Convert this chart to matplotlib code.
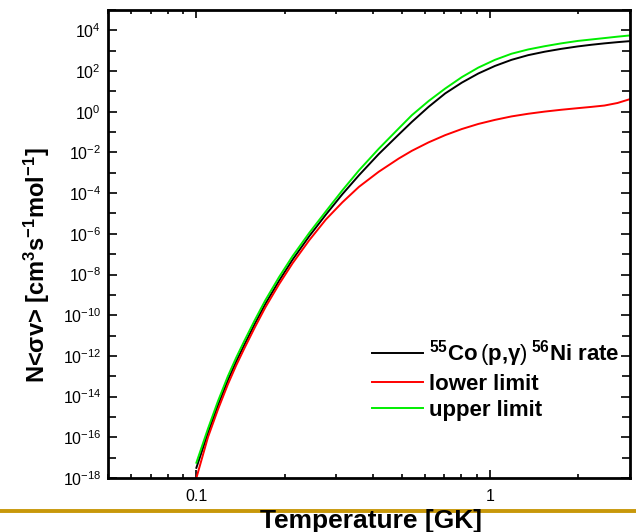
import numpy as np
import matplotlib
matplotlib.use("Agg")
import matplotlib.pyplot as plt
from matplotlib.ticker import FixedLocator, NullFormatter, FixedFormatter
from matplotlib.lines import Line2D

plt.rcParams['font.family'] = ['Liberation Sans', 'DejaVu Sans']
plt.rcParams['mathtext.fontset'] = 'custom'
plt.rcParams['mathtext.rm'] = 'Liberation Sans'
plt.rcParams['mathtext.bf'] = 'Liberation Sans:bold'
plt.rcParams['mathtext.default'] = 'regular'

# Temperature (GK)
temperature = [0.1, 0.1095, 0.1184, 0.128, 0.1366, 0.1458, 0.1584, 0.172, 0.1912,
               0.2126, 0.2422, 0.276, 0.3144, 0.358, 0.418, 0.489, 0.542, 0.618,
               0.704, 0.802, 0.913, 1.04, 1.184, 1.349, 1.536, 1.749, 1.992,
               2.211, 2.455, 2.72, 3.0]
# log10 of N<sigma v>
log_rate = [-17.5, -15.79, -14.43, -13.2, -12.28, -11.44, -10.4, -9.43, -8.31,
            -7.27, -6.12, -5.06, -4.05, -3.12, -2.08, -1.12, -0.5, 0.24,
            0.9, 1.43, 1.88, 2.25, 2.55, 2.78, 2.95, 3.09, 3.21,
            3.29, 3.36, 3.42, 3.47]
log_lower = [-18.0, -16.0, -14.64, -13.4, -12.47, -11.62, -10.58, -9.6, -8.48,
             -7.45, -6.32, -5.3, -4.45, -3.69, -2.95, -2.3, -1.92, -1.505,
             -1.15, -0.85, -0.6, -0.4, -0.23, -0.1, 0.007, 0.097, 0.176,
             0.237, 0.305, 0.43, 0.62]
log_upper = [-17.25, -15.58, -14.23, -13.0, -12.09, -11.25, -10.22, -9.25, -8.13,
             -7.1, -5.96, -4.9, -3.86, -2.88, -1.82, -0.82, -0.17, 0.525,
             1.14, 1.7, 2.17, 2.55, 2.85, 3.06, 3.22, 3.36, 3.48,
             3.55, 3.62, 3.69, 3.75]

series_labels = [r'$^{55}$Co$\,\mathrm{(}$p,γ$\mathrm{)}\,^{56}$Ni rate', 'lower limit', 'upper limit']
series_colors = ['black', '#ff0000', '#00ee00']

y_major_exp = list(range(-18, 5, 2))
y_minor_exp = list(range(-17, 6, 2))
x_major = [0.1, 1]
x_minor = [0.05, 0.06, 0.07, 0.08, 0.09, 0.2, 0.3, 0.4, 0.5, 0.6, 0.7, 0.8, 0.9, 2, 3]

fig = plt.figure(figsize=(6.36, 5.32), dpi=100)
ax = fig.add_axes([108/636, 1-478/532, (630-108)/636, (478-10)/532])

T = np.array(temperature)
for vals, lab, col in zip([log_rate, log_lower, log_upper], series_labels, series_colors):
    ax.plot(T, 10**np.array(vals), color=col, lw=1.4, label=lab)

ax.set_xscale('log')
ax.set_yscale('log')
ax.set_xlim(0.05, 3)
ax.set_ylim(1e-18, 1e5)

ax.xaxis.set_major_locator(FixedLocator(x_major))
ax.xaxis.set_major_formatter(FixedFormatter(['0.1', '1']))
ax.xaxis.set_minor_locator(FixedLocator(x_minor))
ax.xaxis.set_minor_formatter(NullFormatter())
ax.yaxis.set_major_locator(FixedLocator([10.0**e for e in y_major_exp]))
ax.yaxis.set_major_formatter(FixedFormatter(['$10^{%d}$' % e for e in y_major_exp]))
ax.yaxis.set_minor_locator(FixedLocator([10.0**e for e in y_minor_exp]))
ax.yaxis.set_minor_formatter(NullFormatter())

for s in ax.spines.values():
    s.set_linewidth(2.0)
ax.tick_params(axis='both', which='both', direction='in', top=True, right=True,
               width=1.2, labelsize=11.5, colors='black')
ax.tick_params(axis='x', which='major', length=6, pad=8)
ax.tick_params(axis='x', which='minor', length=3)
ax.tick_params(axis='y', which='major', length=6.5, pad=5)
ax.tick_params(axis='y', which='minor', length=6)

leg_font = {'family': ['Liberation Sans', 'DejaVu Sans'], 'weight': 'bold', 'size': 16}
leg = ax.legend(loc='upper left', bbox_to_anchor=((371.7-108)/522, (478-338)/468),
                frameon=False, prop=leg_font, handlelength=2.3, handletextpad=0.3,
                labelspacing=0.22, borderaxespad=0.0, borderpad=0.0)

fig.text(37/636, 1-265/532, 'N<\u03c3v> [cm$^{3}$s$^{-1}$mol$^{-1}$]', rotation=90,
         ha='center', va='center', fontsize=17, fontweight='bold')

fig.add_artist(Line2D([0, 1], [1-510.7/532, 1-510.7/532], transform=fig.transFigure,
                      color='#c8980a', lw=2.8, zorder=1))
fig.text(371/636, 1-509/532, 'Temperature [GK]', ha='center', va='top',
         fontsize=19, fontweight='bold', zorder=5)

fig.savefig('out.png', dpi=100)
